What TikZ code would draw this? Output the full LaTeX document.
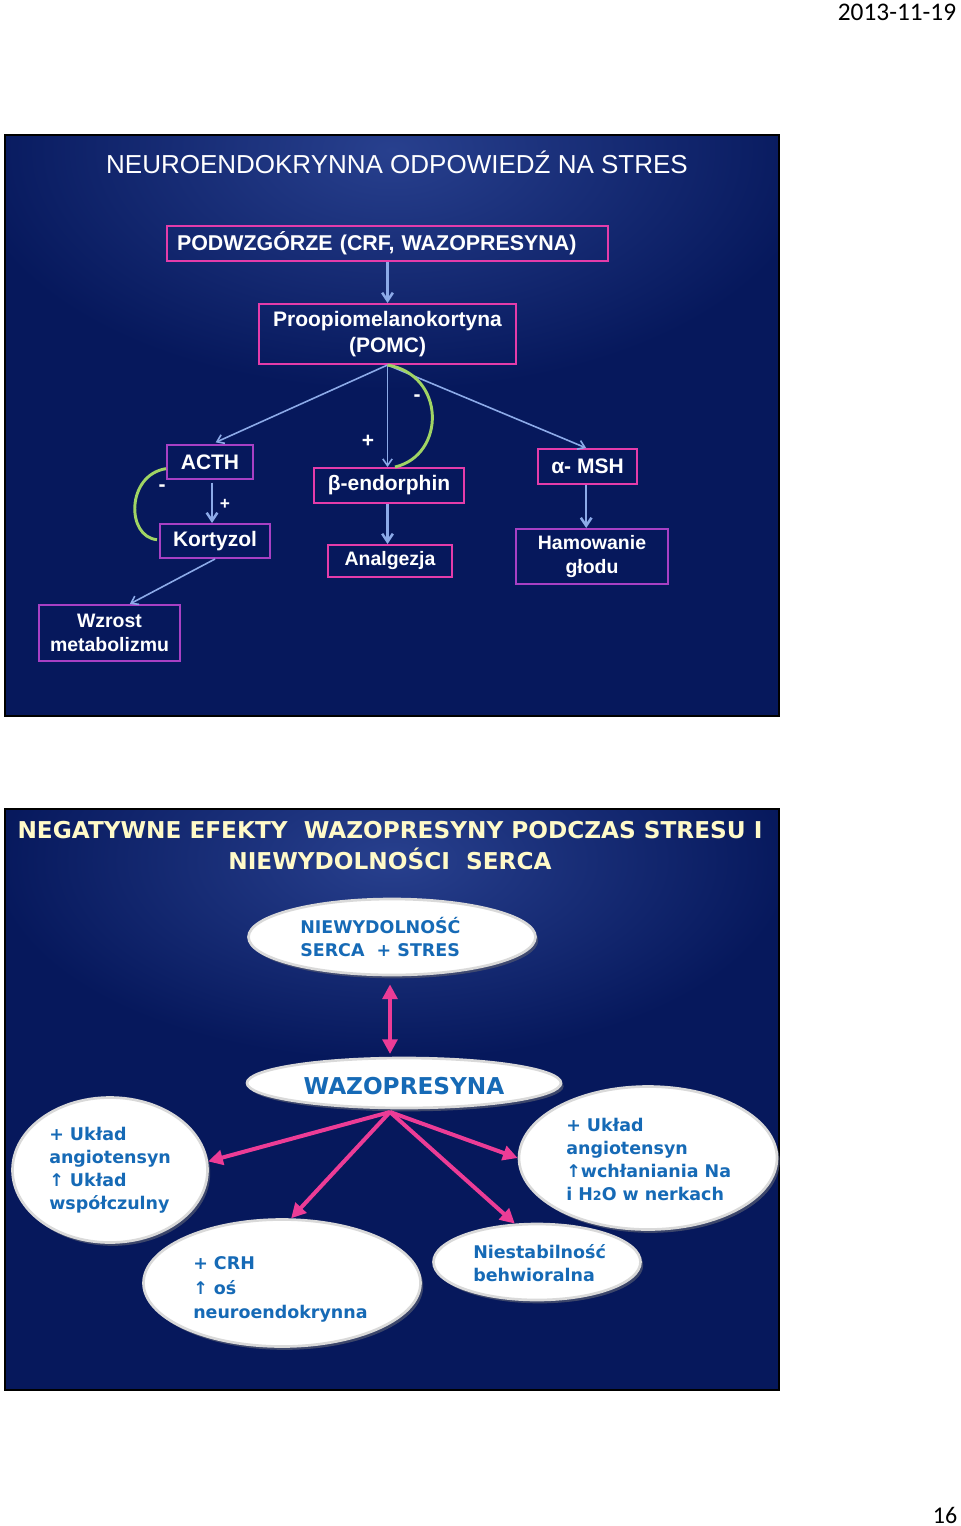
\documentclass[tikz,border=0pt]{standalone}
\usepackage{fontspec}
\setmainfont{Liberation Sans}
\newfontfamily\tah{DejaVu Sans}
\newfontfamily\calib{Carlito}
\usetikzlibrary{arrows.meta,calc,shapes.geometric,shadows}
\definecolor{navy}{RGB}{6,24,92}
\definecolor{navyglow}{RGB}{40,64,142}
\definecolor{pinkb}{RGB}{228,60,170}
\definecolor{purpb}{RGB}{168,64,196}
\definecolor{lblue}{RGB}{140,170,232}
\definecolor{lgreen}{RGB}{160,212,100}
\definecolor{cream}{RGB}{255,250,200}
\definecolor{tblue}{RGB}{22,106,182}
\definecolor{hot}{RGB}{236,60,150}
\newcommand\fsz[2]{\fontsize{#1}{#2}\selectfont}
\tikzset{
  slide/.style={fill=navy, draw=black, line width=1.5pt},
  pbox/.style={draw=pinkb, line width=1.5pt, text=white, inner sep=0pt, align=center, font=\bfseries\fsz{15.75pt}{19.5pt}},
  vbox/.style={pbox, draw=purpb},
  sbox/.style={font=\bfseries\fsz{14.6pt}{17.5pt}},
  sign/.style={text=white, font=\bfseries\fsz{15.75pt}{18pt}, inner sep=0pt},
  fl/.style={draw=lblue, line width=1.2pt, -{Straight Barb[length=5pt,width=7pt]}},
  vl/.style={draw=lblue, line width=1.9pt, -{Straight Barb[length=6pt,width=8pt]}},
  gl/.style={draw=lgreen, line width=2.2pt},
  oval/.style={ellipse, inner sep=0pt, fill=white, draw=white!70!gray, line width=2pt,
    drop shadow={shadow xshift=2pt, shadow yshift=-2.5pt, fill=gray!60!navy, opacity=.75}},
  btxt/.style={anchor=west, align=left, text=tblue, inner sep=0pt, font=\tah\bfseries\fsz{13.1pt}{17.25pt}},
  parr/.style={draw=hot, line width=3pt, -{Triangle[length=11pt,width=11pt]}},
}
\begin{document}
\begin{tikzpicture}[x=0.75pt,y=-0.75pt]
\useasboundingbox (0,0) rectangle (960,1526);
\fill[white] (0,0) rectangle (960,1526);
% header and footer
\node[font=\calib\fsz{19pt}{22pt}, inner sep=0pt] (date) at (897,12) {2013-11-19};
\node[font=\calib\fsz{18pt}{22pt}, inner sep=0pt] (page) at (945,1515) {16};

% ---------- slide 1 ----------
\fill[navy] (5,135) rectangle (779,716);
\begin{scope}
\clip (5,135) rectangle (779,716);
\shade[inner color=navyglow, outer color=navy] (392,150) ellipse [x radius=430, y radius=240];
\end{scope}
\draw[black, line width=1.5pt] (5,135) rectangle (779,716);

\node[text=white, font=\fsz{19.5pt}{22pt}, inner sep=0pt] (t1) at (397,162) {NEUROENDOKRYNNA ODPOWIEDŹ NA STRES};

\node[pbox, align=left, font=\bfseries\fsz{16.05pt}{19.5pt}, text width=315.75pt, inner xsep=7.5pt, minimum height=26.25pt] (pod) at (387.5,243.5) {PODWZGÓRZE (CRF, WAZOPRESYNA)};
\node[pbox, minimum width=192.75pt, minimum height=45pt] (pomc) at (387.5,334) {Proopiomelanokortyna\\(POMC)};
\node[vbox, minimum width=64.5pt, minimum height=25.5pt] (acth) at (210,462) {ACTH};
\node[vbox, minimum width=82.5pt, minimum height=25.5pt] (kort) at (215,541) {Kortyzol};
\node[pbox, minimum width=112.5pt, minimum height=26.25pt] (beta) at (389,485.5) {β-endorphin};
\node[pbox, sbox, minimum width=93pt, minimum height=24pt] (analg) at (390,561) {Analgezja};
\node[pbox, minimum width=74.25pt, minimum height=26.25pt] (msh) at (587.5,466.5) {α- MSH};
\node[vbox, sbox, minimum width=114pt, minimum height=41.25pt] (ham) at (592,556.5) {Hamowanie\\głodu};
\node[vbox, sbox, minimum width=105.75pt, minimum height=42pt] (wzr) at (109.5,633) {Wzrost\\metabolizmu};

\draw[vl] (pod.south -| pomc.south) -- (pomc.north);
\draw[fl, shorten >=3pt] (pomc.south) -- ([xshift=1.5pt]acth.north);
\draw[fl] (pomc.south) -- (beta.north -| pomc.south);
\draw[fl] (pomc.south) -- ([xshift=-1pt]msh.north);
\draw[vl, shorten <=2pt] ([xshift=1.5pt]acth.south) -- ([xshift=1.5pt]acth.south |- kort.north);
\draw[vl] (beta.south -| pomc.south) -- (analg.north -| pomc.south);
\draw[vl] ([xshift=-1pt]msh.south) -- ([xshift=-1pt]msh.south |- ham.north);
\draw[fl] (kort.south) -- (wzr.55);

\draw[gl] (pomc.south) .. controls (446,375) and (446,455) .. ([xshift=4.5pt]beta.north);
\draw[gl] ([yshift=-5pt]acth.west) .. controls (126,475) and (126,537) .. ([xshift=-1.5pt,yshift=1pt]kort.west);

\node[sign] (m1) at (417,398) {-};
\node[sign] (p1) at (368,441) {+};
\node[sign, font=\bfseries\fsz{13pt}{15pt}] (p2) at (225,504) {+};
\node[sign] (m2) at (162,488) {-};

% ---------- slide 2 ----------
\fill[navy] (5,809) rectangle (779,1390);
\begin{scope}
\clip (5,809) rectangle (779,1390);
\shade[inner color=navyglow, outer color=navy] (392,860) ellipse [x radius=400, y radius=200];
\end{scope}
\draw[black, line width=1.5pt] (5,809) rectangle (779,1390);

\node[text=cream, align=center, inner sep=0pt, font=\tah\bfseries\fsz{17.4pt}{23.25pt}] (t2) at (390,845.5)
  {NEGATYWNE EFEKTY \ WAZOPRESYNY PODCZAS STRESU I\\NIEWYDOLNOŚCI \ SERCA};

\node[oval, minimum width=215.25pt, minimum height=57pt] (nsr) at (392,937) {};
\node[oval, minimum width=235.5pt, minimum height=37.5pt] (wazo) at (404,1083) {};
\node[oval, minimum width=146.25pt, minimum height=108.75pt] (lt) at (110,1170) {};
\node[oval, minimum width=193.5pt, minimum height=107.25pt] (rt) at (648,1158) {};
\node[oval, minimum width=207.75pt, minimum height=95.25pt] (bl) at (282,1283) {};
\node[oval, minimum width=155.25pt, minimum height=57pt] (br) at (537,1262) {};

\node[btxt] (nsrt) at (300,937) {NIEWYDOLNOŚĆ\\SERCA \ + STRES};
\node[btxt, anchor=center, font=\tah\bfseries\fsz{17.4pt}{20pt}] (wazot) at (404,1086) {WAZOPRESYNA};
\node[btxt] (ltt) at (49,1170.5) {+ Układ\\angiotensyn\\↑ Układ\\współczulny};
\node[btxt] (rtt) at (566,1159.5) {+ Układ\\angiotensyn\\↑wchłaniania Na\\i H{\fsz{9.5pt}{10pt}2}O w nerkach};
\node[btxt, font=\tah\bfseries\fsz{13.1pt}{18.4pt}] (blt) at (193,1289.5) {+ CRH\\↑ oś\\neuroendokrynna};
\node[btxt] (brt) at (473,1263.5) {Niestabilność\\behwioralna};

\draw[draw=hot, line width=3pt, {Triangle[length=11pt,width=11pt]}-{Triangle[length=11pt,width=11pt]}, shorten <=6pt, shorten >=2pt] (nsr.south -| 390,0) -- (wazo.north -| 390,0);
\coordinate (hub) at (390,1112);
\draw[parr] (hub) -- (lt.5);
\draw[parr] (hub) -- (bl.82);
\draw[parr] (hub) -- (br.120);
\draw[parr] (hub) -- (rt.west);
\end{tikzpicture}
\end{document}
